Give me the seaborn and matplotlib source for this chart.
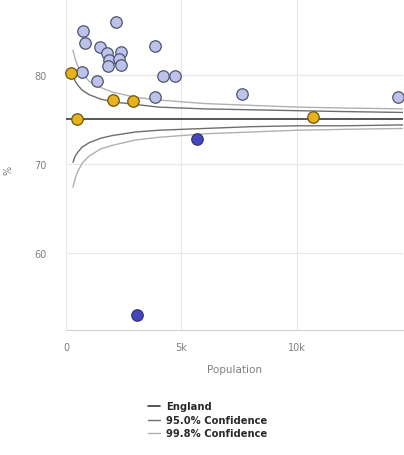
import matplotlib as mpl
mpl.use('Agg')
import matplotlib.pyplot as plt
import seaborn as sns
import pandas as pd

# areas (population, value %, group)
pop = [740, 820, 2160, 1470, 1770, 2380, 1860, 2300, 2360, 1800, 3840, 690, 1340, 4210, 4720, 3860, 7620, 14370,
       220, 480, 2030, 2900, 10700,
       5670, 3070]
value = [84.9, 83.6, 86.0, 83.1, 82.5, 82.6, 81.7, 81.8, 81.1, 81.0, 83.3, 80.3, 79.3, 79.9, 79.9, 77.5, 77.9, 77.5,
         80.2, 75.1, 77.2, 77.1, 75.3,
         72.8, 53.0]
group = ['Similar'] * 18 + ['Higher'] * 5 + ['Lower'] * 2

# funnel limits
funnel_pop = [300, 400, 500, 700, 1000, 1500, 2000, 3000, 4000, 5000, 6000, 8000, 10000, 12000, 14600]
england = 75.1
lo95 = [70.2, 70.9, 71.3, 71.9, 72.4, 72.9, 73.2, 73.6, 73.8, 73.9, 74.0, 74.2, 74.3, 74.3, 74.4]
hi95 = [80.0, 79.3, 78.9, 78.3, 77.8, 77.3, 77.0, 76.7, 76.4, 76.3, 76.2, 76.1, 76.0, 75.9, 75.8]
lo998 = [67.4, 68.4, 69.1, 70.1, 70.9, 71.7, 72.1, 72.7, 73.0, 73.2, 73.4, 73.6, 73.8, 73.9, 74.0]
hi998 = [82.8, 81.8, 81.1, 80.2, 79.3, 78.6, 78.1, 77.5, 77.2, 77.0, 76.8, 76.6, 76.4, 76.3, 76.2]

df = pd.DataFrame({'Population': pop, 'Value': value, 'Group': group})
lines = pd.DataFrame({'Population': funnel_pop, 'lo95': lo95, 'hi95': hi95, 'lo998': lo998, 'hi998': hi998})

sns.set_style('whitegrid', {'grid.color': '#e8e8e8', 'axes.edgecolor': '#d0d0d0'})
plt.rcParams['font.family'] = ['DejaVu Sans']

fig = plt.figure(figsize=(4.04, 4.56), dpi=100)
ax = fig.add_axes([66 / 404, 1 - 331 / 456, 337 / 404, 331 / 456])

ax.plot([0, 14600], [england, england], color='#3a3a3a', lw=1.2, label='England', zorder=2)
sns.lineplot(data=lines, x='Population', y='lo95', ax=ax, color='#6e6e6e', lw=1.0, label='95.0% Confidence', zorder=2)
sns.lineplot(data=lines, x='Population', y='hi95', ax=ax, color='#6e6e6e', lw=1.0, zorder=2)
sns.lineplot(data=lines, x='Population', y='lo998', ax=ax, color='#b0b0b0', lw=1.0, label='99.8% Confidence', zorder=2)
sns.lineplot(data=lines, x='Population', y='hi998', ax=ax, color='#b0b0b0', lw=1.0, zorder=2)

colors = {'Similar': '#bcc2ea', 'Higher': '#e6b31e', 'Lower': '#4747bd'}
edges = {'Similar': '#4e5470', 'Higher': '#6f5410', 'Lower': '#33337a'}
for g in ['Similar', 'Higher', 'Lower']:
    sub = df[df.Group == g]
    sns.scatterplot(data=sub, x='Population', y='Value', ax=ax, color=colors[g], edgecolor=edges[g],
                    linewidth=0.9, s=68, zorder=3, legend=False, clip_on=False)

ax.set_xlim(0, 14590)
ax.set_ylim(51.35, 88.55)
ax.set_xticks([0, 5000, 10000])
ax.set_xticklabels(['0', '5k', '10k'])
ax.set_yticks([60, 70, 80])
for s in ['left', 'right', 'top']:
    ax.spines[s].set_visible(False)
ax.tick_params(axis='both', labelsize=7, colors='#808080', length=0)
ax.tick_params(axis='y', pad=14)
ax.tick_params(axis='x', pad=9)
ax.set_xlabel('Population', fontsize=7.5, color='#808080', labelpad=8)
ax.set_ylabel('%', fontsize=7, color='#808080')
ax.yaxis.set_label_coords(-53 / 337, 1 - 170 / 331)

handles, labels = ax.get_legend_handles_labels()
ax.get_legend().remove()
leg = fig.legend(handles, labels, loc='center', bbox_to_anchor=(208 / 404, 1 - 421 / 456), frameon=False,
                 prop={'size': 7.2, 'weight': 'bold'}, handlelength=1.2, handletextpad=0.6, labelspacing=0.35)
for t in leg.get_texts():
    t.set_color('#2a2a2a')

fig.savefig('out.png', dpi=100)
